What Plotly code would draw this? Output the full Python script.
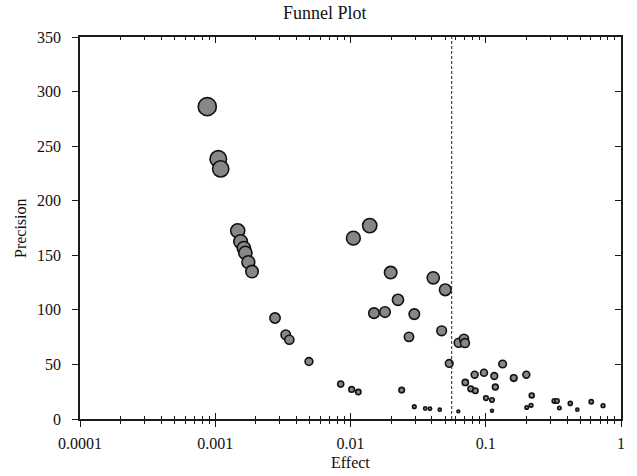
import plotly.graph_objects as go
import numpy as np

# Effect (x, log scale) and Precision (y) for each study
effect = [0.000873, 0.001053, 0.001097, 0.001466, 0.00154, 0.00163, 0.00167, 0.001756, 0.00187,
          0.002767, 0.00332, 0.00353, 0.00493, 0.00846, 0.0102, 0.01142,
          0.01387, 0.0105, 0.01982, 0.0409, 0.0502, 0.02244, 0.01492, 0.01799, 0.02963,
          0.02707, 0.0472, 0.0631, 0.069, 0.0702,
          0.0537, 0.02391, 0.0706, 0.0775, 0.0838, 0.0828, 0.097, 0.1156, 0.1177, 0.1333,
          0.161, 0.1995, 0.2188, 0.1004, 0.1112, 0.1112, 0.0627, 0.02963, 0.0357, 0.0387,
          0.0457, 0.2008, 0.2162, 0.3214, 0.3365, 0.35, 0.4217, 0.4754, 0.6026, 0.7365]
precision = [286.2, 238.3, 229.2, 172.4, 162.6, 156.5, 152.2, 143.7, 135.1,
             92.5, 77.2, 72.6, 52.7, 32.0, 27.1, 24.7,
             177.2, 165.7, 134.2, 129.4, 118.4, 109.2, 97.0, 98.0, 96.1,
             75.3, 80.8, 69.9, 73.5, 69.6,
             50.9, 26.5, 33.5, 27.7, 25.9, 40.6, 42.4, 39.4, 29.3, 50.4,
             37.5, 40.6, 21.6, 19.2, 17.4, 7.6, 7.0, 11.3, 9.7, 9.4,
             8.5, 10.6, 12.5, 16.5, 16.5, 10.1, 14.3, 8.5, 15.8, 12.2]
pooled_effect = 0.056

x_tickvals = [0.0001, 0.001, 0.01, 0.1, 1]
x_ticktext = ["0.0001", "0.001", "0.01", "0.1", "1"]
y_tickvals = [0, 50, 100, 150, 200, 250, 300, 350]

minor_vals = [m * d for d in [0.0001, 0.001, 0.01, 0.1] for m in range(2, 10)]
sizes = [1.07 * np.sqrt(p) for p in precision]

FONT = "Liberation Serif, Times New Roman, serif"
AX = "#1a1a1a"
W, H = 637, 476
L, R, T, B = 80, 16, 37, 57
PW = W - L - R
PH = H - T - B

fig = go.Figure()
fig.add_trace(go.Scatter(
    x=effect, y=precision, mode="markers",
    marker=dict(size=sizes, opacity=1, color="#878787", line=dict(color="#111111", width=1.6)),
    hoverinfo="x+y", showlegend=False))
# invisible twin for overlay axes
fig.add_trace(go.Scatter(
    x=effect, y=precision, mode="markers", xaxis="x2", yaxis="y2",
    marker=dict(size=1, opacity=0), hoverinfo="skip", showlegend=False))

fig.add_shape(type="line", x0=pooled_effect, x1=pooled_effect, y0=0, y1=350,
              xref="x", yref="y", line=dict(color="#222", width=1, dash="3px,2px"))

common_x = dict(type="log", range=[-4, 0], showgrid=False, zeroline=False, automargin=False,
                showline=True, linecolor=AX, linewidth=1.5,
                tickvals=x_tickvals, ticktext=x_ticktext, tickwidth=1.2, tickcolor=AX)
fig.update_layout(
    width=W, height=H,
    margin=dict(l=L, r=R, t=T, b=B),
    paper_bgcolor="white", plot_bgcolor="white",
    font=dict(family=FONT, size=16, color="#111"),
    xaxis=dict(**common_x, ticks="outside", ticklen=6, ticklabelstandoff=3,
               minor=dict(tickmode="array", tickvals=minor_vals, ticks="outside",
                          ticklen=3.5, tickwidth=1.2, tickcolor=AX),
               tickfont=dict(family=FONT, size=16)),
    xaxis2=dict(**common_x, overlaying="x", anchor="y", side="bottom",
                ticks="inside", ticklen=6, mirror="ticks", showticklabels=False,
                minor=dict(tickmode="array", tickvals=minor_vals, ticks="inside",
                           ticklen=3.5, tickwidth=1.2, tickcolor=AX)),
    yaxis=dict(range=[0, 350], tickvals=y_tickvals, showgrid=False, zeroline=False, automargin=False,
               showline=True, linecolor=AX, linewidth=1.5, ticks="outside", ticklen=6,
               tickwidth=1.2, tickcolor=AX, tickfont=dict(family=FONT, size=16),
               ticklabelstandoff=8),
    yaxis2=dict(range=[0, 350], tickvals=y_tickvals, overlaying="y", anchor="x", side="right",
                showgrid=False, zeroline=False, showline=True, linecolor=AX, linewidth=1.5,
                automargin=False, ticks="inside", ticklen=6, tickwidth=1.2, tickcolor=AX,
                showticklabels=False),
    annotations=[
        dict(text="Funnel Plot", xref="paper", yref="paper", x=(325 - L) / PW, y=1.0,
             yshift=24, xanchor="center", yanchor="middle", showarrow=False,
             font=dict(family=FONT, size=18, color="#111")),
        dict(text="Effect", xref="paper", yref="paper", x=0.5, y=0,
             yshift=-(462 - (H - B)), xanchor="center", yanchor="middle", showarrow=False,
             font=dict(family=FONT, size=16, color="#111")),
        dict(text="Precision", xref="paper", yref="paper", x=(20 - L) / PW, y=0.5,
             textangle=-90, xanchor="center", yanchor="middle", showarrow=False,
             font=dict(family=FONT, size=16, color="#111")),
    ],
)

fig.write_html("out.html", config={"displayModeBar": False},
               post_script="document.body.style.margin='0px';document.body.style.overflow='hidden';")
